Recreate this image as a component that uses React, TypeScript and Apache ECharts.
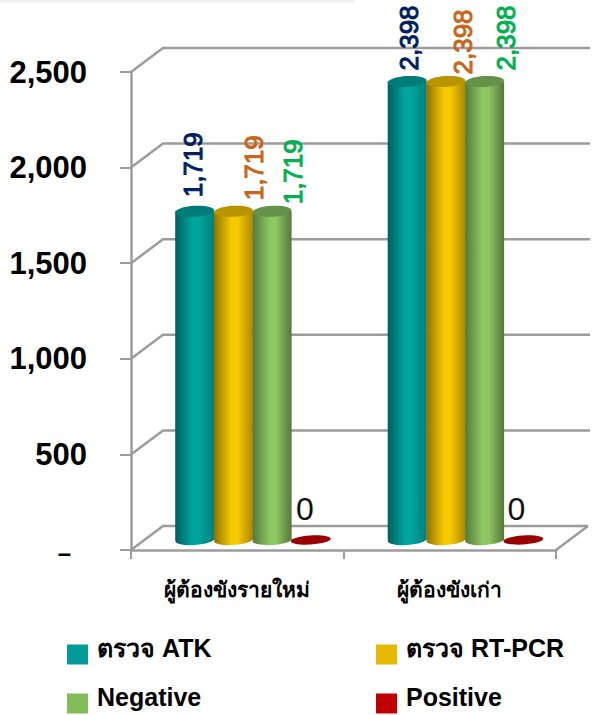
import React, { useEffect, useRef } from "react";
import * as echarts from "echarts";

const categories = ["ผู้ต้องขังรายใหม่", "ผู้ต้องขังเก่า"];
const atk = [1719, 2398];
const rtpcr = [1719, 2398];
const negative = [1719, 2398];
const positive = [0, 0];
const yTicks = [0, 500, 1000, 1500, 2000, 2500];
const seriesNames = ["ตรวจ ATK", "ตรวจ RT-PCR", "Negative", "Positive"];

const FONT = '"Liberation Sans", Arial, sans-serif';
const WALL_DX = 32;
const WALL_DY = -24;
const BAR_DX = 15.5;
const BAR_DY = -10;
const SPACING = 38.7;
const RX = 19.5;
const GRID_COLOR = "#9c9c9c";

const looks = [
  { edge1: "#00605e", mid: "#00a59f", edge2: "#007f7a", top: "#007c78", label: "#002060", offs: [[-2, -14], [2, -11]] },
  { edge1: "#8f7200", mid: "#f7ca00", edge2: "#ab8800", top: "#b89400", label: "#c9651b", offs: [[21, -11], [17, -7]] },
  { edge1: "#557a3a", mid: "#8fc763", edge2: "#56773a", top: "#66914b", label: "#00b050", offs: [[21, -7], [21, -11]] },
  { edge1: "#990000", mid: "#990000", edge2: "#990000", top: "#990000", label: "#111111", offs: [[-6, -31], [-7, -31]] },
];

function cylinder(seriesIdx: number) {
  return (params: any, api: any) => {
    const cat = api.value(0);
    const val = api.value(1);
    const look = looks[seriesIdx];
    const base = api.coord([cat, 0]);
    const top = api.coord([cat, val]);
    const cx = base[0] + BAR_DX + (seriesIdx - 1.5) * SPACING;
    const by = base[1] + BAR_DY;
    const ty = top[1] + BAR_DY;
    const fill = new echarts.graphic.LinearGradient(0, 0, 1, 0, [
      { offset: 0, color: look.edge1 },
      { offset: 0.45, color: look.mid },
      { offset: 0.6, color: look.mid },
      { offset: 1, color: look.edge2 },
    ]);
    const children: any[] = [];
    if (val > 0) {
      children.push({ type: "ellipse", x: cx, y: by, rotation: 0.06, shape: { cx: 0, cy: 0, rx: RX, ry: 5 }, style: { fill } });
      children.push({ type: "rect", shape: { x: cx - RX, y: ty, width: RX * 2, height: by - ty }, style: { fill } });
      children.push({ type: "ellipse", x: cx, y: ty, rotation: 0.06, shape: { cx: 0, cy: 0, rx: RX, ry: 5.5 }, style: { fill: look.top } });
    } else {
      children.push({ type: "ellipse", x: cx, y: ty, rotation: 0.06, shape: { cx: 0, cy: 0, rx: RX + 0.5, ry: 4.5 }, style: { fill: look.top } });
    }
    const [dx, dy] = look.offs[cat];
    const text = val.toLocaleString("en-US");
    children.push(
      val > 0
        ? {
            type: "text", x: cx + dx, y: ty + dy, rotation: Math.PI / 2,
            style: { text, fill: look.label, font: `26px ${FONT}`, align: "left", verticalAlign: "middle", stroke: look.label, lineWidth: 1 },
          }
        : {
            type: "text", x: cx + dx, y: ty + dy,
            style: { text, fill: look.label, font: `32px ${FONT}`, align: "center", verticalAlign: "middle" },
          },
    );
    return { type: "group", children };
  };
}

function wall(params: any, api: any) {
  const v = api.value(0);
  const y = api.coord([0, v])[1];
  const cs = params.coordSys;
  const x0 = cs.x;
  const x1 = cs.x + cs.width;
  const children: any[] = [
    { type: "polyline", shape: { points: [[x0, y], [x0 + WALL_DX, y + WALL_DY], [x1 + (v === 0 ? WALL_DX : WALL_DX + 2), y + WALL_DY]] }, style: { stroke: GRID_COLOR, lineWidth: 2.5, fill: "none" } },
  ];
  if (v === 0) {
    children.push({ type: "line", shape: { x1, y1: y, x2: x1 + WALL_DX, y2: y + WALL_DY }, style: { stroke: GRID_COLOR, lineWidth: 2.5 } });
  }
  return { type: "group", children };
}

const toData = (vals: number[]) => vals.map((v, i) => [i, v]);

const legendPos = [
  { left: 67, top: 635 },
  { left: 376, top: 635 },
  { left: 67, top: 684 },
  { left: 376, top: 684 },
];
const legendColors = ["#009a98", "#e6b800", "#82bb5a", "#c00000"];

export default function App() {
  const ref = useRef<HTMLDivElement>(null);
  useEffect(() => {
    document.body.style.margin = "0";
    const chart = echarts.init(ref.current!, undefined, { renderer: "svg" });
    const valueArrays = [atk, rtpcr, negative, positive];
    chart.setOption({
      animation: false,
      backgroundColor: "#ffffff",
      grid: { left: 131, right: 39, top: 72, bottom: 165 },
      graphic: [
        {
          type: "rect", left: 0, top: 0, shape: { width: 355, height: 4 },
          style: { fill: new echarts.graphic.LinearGradient(0, 0, 0, 1, [{ offset: 0, color: "#ececec" }, { offset: 1, color: "#ffffff" }]) },
        },
      ],
      legend: seriesNames.map((name, i) => ({
        ...legendPos[i],
        orient: "horizontal",
        data: [{ name, icon: "rect" }],
        itemWidth: 21,
        itemHeight: 20,
        itemGap: 0,
        padding: 0,
        selectedMode: false,
        formatter: (n: string) => `{a|${n}}\n{b| }`,
        textStyle: {
          padding: [0, 0, 0, 4],
          rich: {
            a: { fontFamily: FONT, fontWeight: "bold", fontSize: 25, lineHeight: 28, color: "#000000" },
            b: { fontSize: 1, lineHeight: 14, color: "#ffffff" },
          },
        },
      })),
      xAxis: {
        type: "category",
        data: categories,
        axisLine: { lineStyle: { color: GRID_COLOR, width: 2.5 } },
        axisTick: { show: true, length: 9, alignWithLabel: false, lineStyle: { color: GRID_COLOR, width: 2 } },
        axisLabel: { margin: 29, fontFamily: FONT, fontWeight: "bold", fontSize: 21, color: "#000000" },
        splitLine: { show: false },
      },
      yAxis: {
        type: "value",
        min: 0,
        max: 2500,
        interval: 500,
        axisLine: { show: true, lineStyle: { color: GRID_COLOR, width: 2.5 } },
        axisTick: { show: true, length: 11, lineStyle: { color: GRID_COLOR, width: 2 } },
        axisLabel: {
          margin: 44,
          fontFamily: FONT,
          fontWeight: "bold",
          fontSize: 31,
          color: "#000000",
          showMinLabel: true,
          showMaxLabel: true,
          formatter: (v: number) => (v === 0 ? "{z|–}" : v.toLocaleString("en-US")),
          rich: { z: { fontFamily: FONT, fontWeight: "bold", fontSize: 24, color: "#000000", padding: [4, 16, 0, 0] } },
        },
        splitLine: { show: false },
      },
      series: [
        {
          type: "custom", name: "walls", silent: true, z: 1, clip: false,
          data: yTicks.map((v) => [v]),
          encode: { y: 0 },
          renderItem: wall,
        },
        ...seriesNames.map((name, i) => ({
          type: "custom",
          name,
          z: 2 + i,
          clip: false,
          data: toData(valueArrays[i]),
          encode: { x: 0, y: 1 },
          itemStyle: { color: legendColors[i] },
          renderItem: cylinder(i),
        })),
      ],
    });
    return () => chart.dispose();
  }, []);
  return <div ref={ref} style={{ width: 595, height: 715 }} />;
}
